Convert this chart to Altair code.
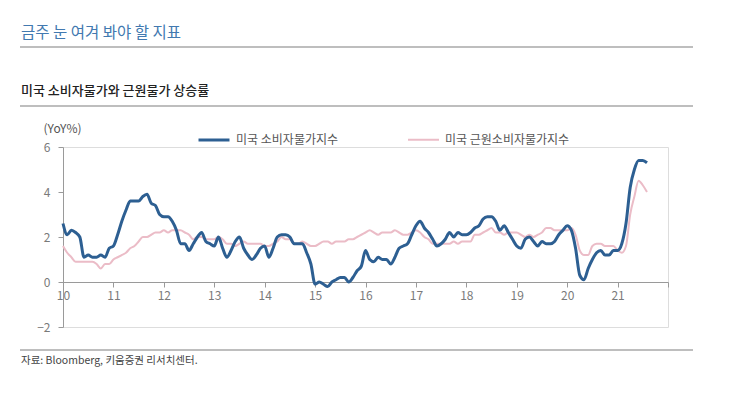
import altair as alt
import pandas as pd

FONT = "Noto Sans CJK KR"

# Monthly YoY (%) Jan 2010 - Aug 2021
cpi = [
    2.6, 2.1, 2.3, 2.2, 2.0, 1.1, 1.2, 1.1, 1.1, 1.2, 1.1, 1.5,
    1.6, 2.1, 2.7, 3.2, 3.6, 3.6, 3.6, 3.8, 3.9, 3.5, 3.4, 3.0,
    2.9, 2.9, 2.7, 2.3, 1.7, 1.7, 1.4, 1.7, 2.0, 2.2, 1.8, 1.7,
    1.6, 2.0, 1.5, 1.1, 1.4, 1.8, 2.0, 1.5, 1.2, 1.0, 1.2, 1.5,
    1.6, 1.1, 1.5, 2.0, 2.1, 2.1, 2.0, 1.7, 1.7, 1.7, 1.3, 0.8,
    -0.1, 0.0, -0.1, -0.2, 0.0, 0.1, 0.2, 0.2, 0.0, 0.2, 0.5, 0.7,
    1.4, 1.0, 0.9, 1.1, 1.0, 1.0, 0.8, 1.1, 1.5, 1.6, 1.7, 2.1,
    2.5, 2.7, 2.4, 2.2, 1.9, 1.6, 1.7, 1.9, 2.2, 2.0, 2.2, 2.1,
    2.1, 2.2, 2.4, 2.5, 2.8, 2.9, 2.9, 2.7, 2.3, 2.5, 2.2, 1.9,
    1.6, 1.5, 1.9, 2.0, 1.8, 1.6, 1.8, 1.7, 1.7, 1.8, 2.1, 2.3,
    2.5, 2.3, 1.5, 0.3, 0.1, 0.6, 1.0, 1.3, 1.4, 1.2, 1.2, 1.4,
    1.4, 1.7, 2.6, 4.2, 5.0, 5.4, 5.4, 5.3,
]
core = [
    1.6, 1.3, 1.1, 0.9, 0.9, 0.9, 0.9, 0.9, 0.8, 0.6, 0.8, 0.8,
    1.0, 1.1, 1.2, 1.3, 1.5, 1.6, 1.8, 2.0, 2.0, 2.1, 2.2, 2.2,
    2.3, 2.2, 2.3, 2.3, 2.3, 2.2, 2.1, 1.9, 2.0, 2.0, 1.9, 1.9,
    1.9, 2.0, 1.9, 1.7, 1.7, 1.6, 1.7, 1.8, 1.7, 1.7, 1.7, 1.7,
    1.6, 1.6, 1.7, 1.8, 2.0, 1.9, 1.9, 1.7, 1.7, 1.8, 1.7, 1.6,
    1.6, 1.7, 1.8, 1.8, 1.7, 1.8, 1.8, 1.8, 1.9, 1.9, 2.0, 2.1,
    2.2, 2.3, 2.2, 2.1, 2.2, 2.2, 2.2, 2.3, 2.2, 2.1, 2.1, 2.2,
    2.3, 2.2, 2.0, 1.9, 1.7, 1.7, 1.7, 1.7, 1.7, 1.8, 1.7, 1.8,
    1.8, 1.8, 2.1, 2.1, 2.2, 2.3, 2.4, 2.2, 2.2, 2.1, 2.2, 2.2,
    2.2, 2.1, 2.0, 2.1, 2.0, 2.1, 2.2, 2.4, 2.4, 2.3, 2.3, 2.3,
    2.3, 2.4, 2.1, 1.4, 1.2, 1.2, 1.6, 1.7, 1.7, 1.6, 1.6, 1.6,
    1.4, 1.3, 1.6, 3.0, 3.8, 4.5, 4.3, 4.0,
]
series_names = ["미국 소비자물가지수", "미국 근원소비자물가지수"]
series_colors = ["#2d5f92", "#ebbcc7"]
x_ticks = list(range(2010, 2023))
y_ticks = [-2, 0, 2, 4, 6]

rows = []
for name, vals, order in [(series_names[1], core, 0), (series_names[0], cpi, 1)]:
    for i, v in enumerate(vals):
        rows.append({"t": 2010 + i / 12.0, "v": v, "s": name, "o": order})
df = pd.DataFrame(rows)

W, H = 605, 180

lines = alt.Chart(df).mark_line(interpolate="monotone").encode(
    x=alt.X("t:Q", scale=alt.Scale(domain=[2010, 2022], nice=False, zero=False),
            axis=alt.Axis(values=x_ticks, offset=-45, title=None,
                          labelExpr="datum.value < 2022 ? toString(datum.value - 2000) : ''",
                          grid=False, domainColor="#9a9a9a", tickColor="#9a9a9a",
                          tickSize=5, labelColor="#7a7a7a", labelFontSize=12,
                          labelFont=FONT, labelPadding=3, labelFlush=False)),
    y=alt.Y("v:Q", scale=alt.Scale(domain=[-2, 6], nice=False),
            axis=alt.Axis(values=y_ticks, title="(YoY%)", titleAngle=0,
                          titleAlign="center", titleX=-1, titleY=-12,
                          titleBaseline="bottom", titleFont=FONT, titleFontSize=12,
                          titleFontWeight="normal", titleColor="#555555",
                          grid=False, domainColor="#9a9a9a", tickColor="#9a9a9a",
                          tickSize=5, labelColor="#7a7a7a", labelFontSize=12,
                          labelFont=FONT, labelPadding=8)),
    color=alt.Color("s:N", scale=alt.Scale(domain=series_names, range=series_colors),
                    legend=alt.Legend(orient="none", legendX=134, legendY=-24,
                                      direction="horizontal", title=None,
                                      symbolType="stroke", symbolSize=960,
                                      symbolStrokeWidth=3, labelFont=FONT,
                                      labelFontSize=12, labelColor="#555555",
                                      columnPadding=65, labelOffset=5)),
    strokeWidth=alt.StrokeWidth("s:N", scale=alt.Scale(domain=series_names, range=[3, 2]),
                                legend=None),
    order=alt.Order("o:Q"),
    detail="s:N",
)

deco_rules = pd.DataFrame({"x1": [-43, -43, -43], "x2": [630, 630, 630], "y": [-100, -41, 203]})
rules = alt.Chart(deco_rules).mark_rule(color="#a8a8a8", strokeWidth=1.3).encode(
    x=alt.X("x1:Q", scale=None), x2="x2:Q", y=alt.Y("y:Q", scale=None)
)

title1 = alt.Chart(pd.DataFrame({"a": [0]})).mark_text(
    text="금주 눈 여겨 봐야 할 지표", font=FONT, fontSize=15.5, color="#4279b0",
    align="left", baseline="middle").encode(x=alt.value(-42), y=alt.value(-114))
title2 = alt.Chart(pd.DataFrame({"a": [0]})).mark_text(
    text="미국 소비자물가와 근원물가 상승률", font=FONT, fontSize=13, fontWeight=500,
    color="#222222", align="left", baseline="middle").encode(x=alt.value(-42), y=alt.value(-56))
source = alt.Chart(pd.DataFrame({"a": [0]})).mark_text(
    text="자료: Bloomberg, 키움증권 리서치센터.", font=FONT, fontSize=10.5,
    color="#444444", align="left", baseline="middle").encode(x=alt.value(-42), y=alt.value(214))

chart = alt.layer(lines, rules, title1, title2, source).properties(
    width=W, height=H,
    autosize=alt.AutoSizeParams(type="none"),
    padding={"left": 55, "top": 139, "right": 60, "bottom": 50},
).configure_view(stroke=None).configure(background="white")

chart.save("out.html", embed_options={"renderer": "svg", "actions": False})
